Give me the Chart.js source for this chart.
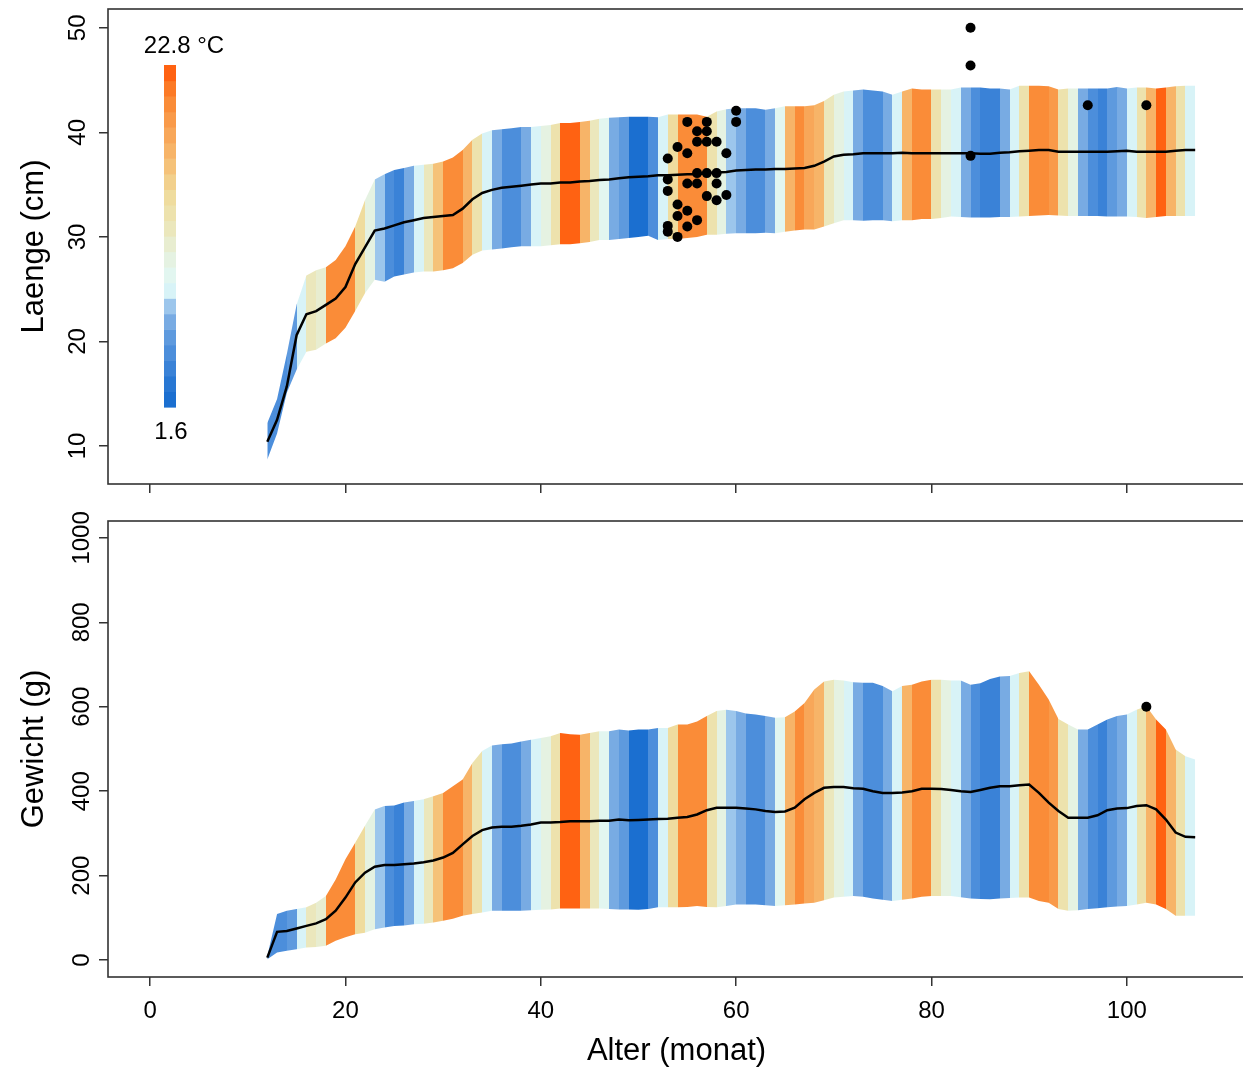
<!DOCTYPE html>
<html><head><meta charset="utf-8">
<script src="https://cdn.jsdelivr.net/npm/chart.js@4.4.1/dist/chart.umd.min.js"></script>
<style>
html,body{margin:0;padding:0;background:#fff;overflow:hidden;width:1243px;height:1070px;}
#c1{position:absolute;left:0;top:0;}
#c2{position:absolute;left:0;top:500px;}
</style></head><body>
<canvas id="c1" width="1250" height="500"></canvas>
<canvas id="c2" width="1250" height="570"></canvas>
<script>
// ---- data ----
const months = [12,13,14,15,16,17,18,19,20,21,22,23,24,25,26,27,28,29,30,31,32,33,34,35,
  36,37,38,39,40,41,42,43,44,45,46,47,48,49,50,51,52,53,54,55,56,57,58,59,
  60,61,62,63,64,65,66,67,68,69,70,71,72,73,74,75,76,77,78,79,80,81,82,83,
  84,85,86,87,88,89,90,91,92,93,94,95,96,97,98,99,100,101,102,103,104,105,106,107];
// monthly water temperature (°C), stripe from month m to m+1 (m = 12..106)
const tempC = [5,4.5,5.5,8.6,13,11.5,20,20.5,20,14.5,10.5,7.5,
  5,4,6.5,8.6,13,17,20,20.5,17.5,13.5,8.8,7,
  4.5,4.5,6.5,8.6,10.5,13.5,22,22.8,17.5,13,10,7,
  5.5,2,1.6,4.5,8.6,14.5,20,20.5,20,13.5,10.5,7.5,
  7,5,5,7,9.5,17.5,20,18.5,17.5,13,10.5,8.6,
  6.5,5,5,7,8.6,17.5,20,20.5,13.5,11,8.6,7,
  5,4,4,7,8.6,13.5,20,20.5,19.5,13.5,10.5,7,
  5,4,5.5,7,8.6,13.5,17.5,22.5,17.5,13.5,8.6];
const tempRange = [1.6, 22.8];
const lenMean = [10.4,12.5,15.7,20.6,22.6,22.9,23.5,24.1,25.2,27.4,29.0,30.6,
  30.8,31.1,31.4,31.6,31.8,31.9,32.0,32.1,32.7,33.6,34.2,34.5,
  34.7,34.8,34.9,35.0,35.1,35.1,35.2,35.2,35.3,35.35,35.45,35.5,
  35.6,35.7,35.75,35.8,35.9,35.9,35.95,36.0,36.0,36.1,36.15,36.2,
  36.35,36.4,36.45,36.45,36.5,36.5,36.55,36.6,36.8,37.2,37.7,37.85,
  37.9,38.0,38.0,38.0,38.0,38.05,38.0,38.0,38.0,38.0,38.0,38.0,
  38.0,37.95,37.95,38.05,38.1,38.2,38.25,38.3,38.3,38.15,38.15,38.15,
  38.15,38.15,38.15,38.2,38.25,38.15,38.15,38.15,38.15,38.25,38.3,38.3];
const lenUpper = [12.2,14.5,18.8,23.5,26.3,26.8,27.1,27.8,29.1,31.0,33.5,35.5,
  36.0,36.4,36.6,36.8,36.9,37.0,37.2,37.6,38.3,39.3,39.9,40.2,
  40.3,40.4,40.5,40.5,40.6,40.7,40.9,40.9,41.0,41.1,41.3,41.4,
  41.45,41.5,41.5,41.5,41.45,41.7,41.7,41.7,41.7,41.5,42.0,42.2,
  42.3,42.3,42.3,42.15,42.3,42.5,42.5,42.5,42.6,43.0,43.6,43.9,
  44.0,44.1,44.0,43.9,43.6,43.9,44.2,44.1,44.1,44.1,44.1,44.3,
  44.3,44.3,44.2,44.2,44.1,44.45,44.45,44.45,44.4,44.1,44.2,44.2,
  44.2,44.2,44.2,44.35,44.2,44.3,44.3,44.2,44.3,44.4,44.45,44.45];
const lenLower = [8.7,11.2,15.1,17.3,19.0,19.2,19.8,20.3,21.3,22.9,24.6,25.9,
  25.7,26.2,26.4,26.6,26.7,26.7,26.8,27.0,27.5,28.3,28.7,28.8,
  28.9,29.0,29.1,29.1,29.1,29.2,29.3,29.3,29.4,29.5,29.7,29.7,
  29.8,29.9,30.0,30.1,29.7,29.8,29.8,29.9,30.0,30.2,30.2,30.3,
  30.35,30.35,30.35,30.4,30.35,30.5,30.6,30.7,30.7,31.0,31.3,31.6,
  31.6,31.55,31.6,31.6,31.5,31.6,31.6,31.7,31.7,31.8,31.95,31.9,
  31.85,31.85,31.85,31.9,31.9,31.95,32.0,32.05,32.1,32.05,32.0,32.0,
  32.0,32.0,31.95,31.95,31.95,31.9,31.8,31.9,32.0,32.0,32.0,32.0];
const wtMean = [6,67,69,75,81,87,97,117,148,184,207,221,
  225,225,227,229,232,236,243,254,274,294,308,314,
  316,316,318,321,326,326,327,329,329,329,330,330,
  333,331,332,333,334,335,337,339,345,355,361,361,
  361,359,357,353,351,352,361,381,396,408,410,410,
  407,406,400,396,396,397,400,406,406,405,403,400,
  398,403,408,412,412,414,416,396,373,353,337,337,
  337,343,355,359,360,365,367,357,333,302,292,291];
const wtUpper = [10,109,117,121,125,136,152,191,239,278,318,357,
  365,366,373,377,381,388,396,412,428,467,495,508,
  511,513,518,522,526,530,538,535,534,538,542,542,
  546,544,546,546,550,550,558,558,565,578,590,593,
  590,584,582,578,574,575,589,609,641,660,664,662,
  658,657,657,649,637,649,652,660,664,664,662,662,
  652,656,666,672,673,680,684,652,617,571,558,546,
  546,558,570,578,582,593,601,570,546,499,483,475];
const wtLower = [2,18,22,26,30,31,34,46,54,61,65,73,
  77,81,82,85,86,89,93,98,105,109,113,117,
  117,117,117,118,119,120,122,122,122,122,122,121,
  120,120,119,121,125,125,125,126,128,126,125,128,
  132,132,132,130,128,130,132,134,136,142,148,150,
  152,150,146,143,140,143,146,150,152,152,152,149,
  146,145,144,146,147,148,148,140,136,121,117,118,
  121,123,125,127,128,132,136,132,121,105,105,105];
// observed fish
const lenPtAge = [53,53,53,53,53,54,54,54,54,55,55,55,55,55,56,56,56,56,56,57,57,57,57,57,58,58,58,58,59,59,60,60,84,84,84,96,102];
const lenPtVal = [37.5,35.5,34.4,31.05,30.5,38.6,33.1,32.0,30.0,41.0,38.0,35.1,32.5,31.0,40.1,39.1,36.1,35.1,31.6,41.0,40.1,39.1,36.1,33.9,39.1,36.1,35.1,33.5,38.0,34.0,42.06,41.0,50,46.4,37.75,42.6,42.6];
const wtPtAge = [102];
const wtPtVal = [600];
// axes
const xTicks = [0,20,40,60,80,100];
const xRange = [-4.31, 112.1];
const lenTicks = [10,20,30,40,50];
const lenRange = [6.36, 51.8];
const wtTicks = [0,200,400,600,800,1000];
const wtRange = [-40, 1040];
// colour scale (cold -> warm)
const palette = ['#1b6fd0','#2877d3','#3a82d7','#4c8edb','#5e9ade','#78abe3','#9cc6ec','#d8f3f7',
  '#e2f6f0','#e5f2e2','#e8edd0','#ebe7bc','#ede2ad','#efdc9e','#f2d08c','#f5c279',
  '#f7b468','#f8a759','#f99a49','#fa8c38','#fc7a26','#ff6212'];

// ---- helpers ----
Chart.defaults.font.family = '"Liberation Sans", Arial, sans-serif';
Chart.defaults.color = '#000';
function tempColor(t){
  const n = palette.length;
  let i = Math.floor((t - tempRange[0]) / (tempRange[1] - tempRange[0]) * n);
  return palette[Math.max(0, Math.min(n - 1, i))];
}
function stripeFill(ctx){
  const chart = ctx.chart;
  if (!chart.chartArea || !chart.scales.x) return 'rgba(0,0,0,0)';
  const xs = chart.scales.x;
  const x0 = xs.getPixelForValue(months[0]);
  const x1 = xs.getPixelForValue(months[months.length - 1]);
  const g = chart.ctx.createLinearGradient(x0, 0, x1, 0);
  const cl = v => Math.max(0, Math.min(1, v));
  for (let i = 0; i < tempC.length; i++) {
    const a = (xs.getPixelForValue(months[i]) - x0) / (x1 - x0);
    const b = (xs.getPixelForValue(months[i + 1]) - x0) / (x1 - x0);
    const c = tempColor(tempC[i]);
    g.addColorStop(cl(a), c);
    g.addColorStop(cl(b), c);
  }
  return g;
}
const xy = (xsArr, ysArr) => xsArr.map((v, i) => ({x: v, y: ysArr[i]}));
const boxPlugin = {
  id: 'box',
  afterDraw(chart){
    const a = chart.chartArea, c = chart.ctx;
    c.save(); c.strokeStyle = '#333'; c.lineWidth = 1.6;
    c.strokeRect(a.left, a.top, a.right - a.left, a.bottom - a.top);
    c.restore();
  }
};
const colorbarPlugin = {
  id: 'colorbar',
  afterDraw(chart){
    const c = chart.ctx, n = palette.length;
    const x = 164, w = 12, top = 65, bot = 407, h = (bot - top) / n;
    c.save();
    for (let i = 0; i < n; i++) { c.fillStyle = palette[i]; c.fillRect(x, bot - (i + 1) * h, w, h + 0.6); }
    c.fillStyle = '#000'; c.font = '24px "Liberation Sans", Arial, sans-serif';
    c.textAlign = 'center'; c.textBaseline = 'middle';
    c.fillText(tempRange[1].toFixed(1) + ' °C', 184, 46);
    c.fillText(tempRange[0].toFixed(1), 171, 432);
    c.restore();
  }
};
function gridOpts(){ return {drawOnChartArea:false, drawTicks:true, tickLength:9, color:'#333', lineWidth:1.5}; }
function noPad(s){ s.paddingTop = 0; s.paddingBottom = 0; s.paddingLeft = 0; s.paddingRight = 0; }
function bandDatasets(mean, upper, lower, pAge, pVal){
  return [
    {data: xy(pAge, pVal), showLine:false, pointRadius:5, pointBackgroundColor:'#000', pointBorderWidth:0, borderColor:'#000', order:0},
    {data: xy(months, mean), borderColor:'#000', borderWidth:2.5, pointRadius:0, fill:false, order:1},
    {data: xy(months, upper), borderColor:'rgba(0,0,0,0)', borderWidth:0, pointRadius:0, fill:'+1', backgroundColor: stripeFill, order:2},
    {data: xy(months, lower), borderColor:'rgba(0,0,0,0)', borderWidth:0, pointRadius:0, fill:false, order:3}
  ];
}
const common = {responsive:false, animation:false, devicePixelRatio:1,
  plugins:{legend:{display:false}, tooltip:{enabled:false}}};
const plainLabel = v => String(v);

new Chart(document.getElementById('c1'), {
  type:'line',
  data:{datasets: bandDatasets(lenMean, lenUpper, lenLower, lenPtAge, lenPtVal)},
  options: Object.assign({}, common, {
    layout:{padding:{top:9, right:4, left:0, bottom:0}},
    scales:{
      x:{type:'linear', min:xRange[0], max:xRange[1],
         afterBuildTicks: s => { s.ticks = xTicks.map(v => ({value:v})); },
         ticks:{display:false}, grid:gridOpts(), border:{display:false},
         afterFit: s => { s.height = 16; noPad(s); }},
      y:{type:'linear', min:lenRange[0], max:lenRange[1],
         afterBuildTicks: s => { s.ticks = lenTicks.map(v => ({value:v})); },
         ticks:{minRotation:90, maxRotation:90, crossAlign:'center', padding:7.6, font:{size:24}, color:'#000', callback: plainLabel},
         grid:gridOpts(), border:{display:false},
         title:{display:true, text:'Laenge (cm)', font:{size:31, lineHeight:1.2}, padding:{top:16, bottom:0}, color:'#000'},
         afterFit: s => { s.width = 108; noPad(s); }}
    }
  }),
  plugins:[boxPlugin, colorbarPlugin]
});

new Chart(document.getElementById('c2'), {
  type:'line',
  data:{datasets: bandDatasets(wtMean, wtUpper, wtLower, wtPtAge, wtPtVal)},
  options: Object.assign({}, common, {
    layout:{padding:{top:21, right:4, left:0, bottom:0}},
    scales:{
      x:{type:'linear', min:xRange[0], max:xRange[1],
         afterBuildTicks: s => { s.ticks = xTicks.map(v => ({value:v})); },
         ticks:{font:{size:24}, color:'#000', padding:11, maxRotation:0, autoSkip:false, callback: plainLabel},
         grid:gridOpts(), border:{display:false},
         title:{display:true, text:'Alter (monat)', font:{size:31, lineHeight:1.2}, padding:{top:0, bottom:0}, color:'#000'},
         afterFit: s => { s.height = 93; noPad(s); }},
      y:{type:'linear', min:wtRange[0], max:wtRange[1],
         afterBuildTicks: s => { s.ticks = wtTicks.map(v => ({value:v})); },
         ticks:{minRotation:90, maxRotation:90, crossAlign:'center', padding:-9.7, font:{size:24}, color:'#000', callback: plainLabel},
         grid:gridOpts(), border:{display:false},
         title:{display:true, text:'Gewicht (g)', font:{size:31, lineHeight:1.2}, padding:{top:16, bottom:0}, color:'#000'},
         afterFit: s => { s.width = 108; noPad(s); }}
    }
  }),
  plugins:[boxPlugin]
});
</script>
</body></html>
